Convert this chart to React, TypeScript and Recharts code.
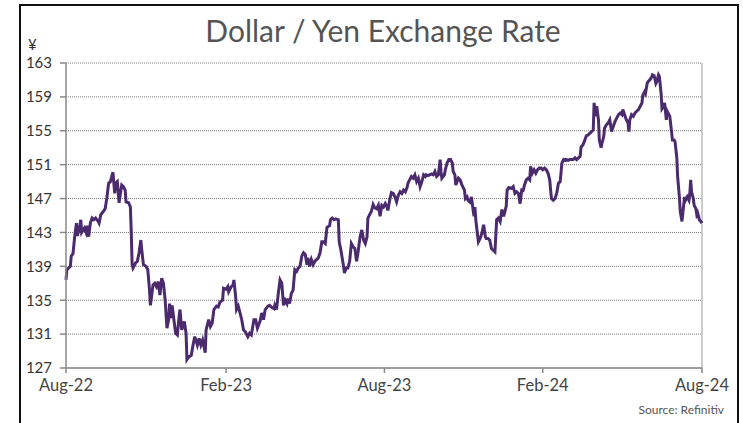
import { LineChart, Line, XAxis, YAxis, CartesianGrid, ReferenceLine } from 'recharts';

// days since the start of the axis (late Aug 2022) and USD/JPY close
const dayOffsets = [
  0, 1, 5, 6, 8, 10, 12, 13, 15, 17, 18, 21, 23, 24, 26, 28, 30, 32, 34, 37, 38, 40, 43, 45, 47, 49, 51, 53, 54, 55,
  56, 57, 59, 61, 62, 64, 66, 68, 69, 72, 74, 75, 76, 77, 80, 82, 84, 86, 87, 89, 92, 94, 96, 97, 100, 102, 104, 106, 108, 110,
  112, 114, 116, 118, 119, 121, 122, 124, 126, 128, 130, 131, 133, 135, 136, 138, 139, 141, 144, 146, 148, 151, 153, 155, 157, 160, 161, 164, 166, 168,
  170, 173, 175, 177, 180, 181, 184, 186, 187, 190, 192, 193, 195, 196, 198, 200, 202, 204, 206, 209, 211, 213, 216, 218, 220, 223, 225, 227, 229, 232,
  234, 236, 239, 240, 242, 244, 246, 248, 250, 252, 254, 255, 257, 259, 261, 263, 265, 267, 269, 271, 273, 275, 277, 278, 280, 282, 284, 286, 288, 290,
  292, 294, 296, 298, 299, 300, 303, 304, 306, 308, 310, 313, 314, 316, 319, 320, 322, 324, 326, 328, 330, 332, 334, 336, 338, 340, 342, 344, 346, 347,
  349, 351, 353, 355, 357, 359, 361, 363, 365, 367, 369, 370, 372, 374, 376, 378, 380, 382, 384, 386, 388, 390, 392, 393, 395, 397, 399, 401, 403, 405,
  407, 409, 411, 413, 414, 416, 418, 420, 422, 424, 426, 428, 430, 431, 432, 435, 436, 438, 440, 442, 444, 445, 447, 448, 451, 453, 455, 458, 459, 461,
  462, 464, 466, 468, 469, 470, 471, 473, 474, 476, 478, 480, 482, 483, 485, 487, 489, 491, 493, 495, 497, 499, 501, 503, 505, 506, 507, 509, 512, 514,
  516, 518, 520, 522, 524, 525, 527, 529, 531, 533, 534, 536, 538, 540, 542, 544, 546, 548, 550, 552, 554, 556, 557, 558, 560, 562, 564, 566, 568, 570,
  572, 574, 575, 577, 579, 581, 583, 585, 587, 589, 591, 592, 594, 596, 598, 600, 602, 604, 606, 607, 609, 610, 612, 613, 615, 616, 618, 619, 621, 623,
  625, 627, 629, 631, 633, 635, 637, 639, 640, 642, 644, 646, 647, 648, 650, 652, 654, 656, 658, 660, 662, 663, 665, 666, 668, 669, 671, 673, 674, 676,
  678, 679, 681, 682, 684, 685, 687, 688, 690, 691, 693, 694, 696, 697, 699, 700, 702, 703, 705, 706, 708, 709, 711, 712, 714, 716, 717, 718, 719, 721,
  722, 724, 725, 726, 728, 731,
];

const rates = [
  137.4, 138.6, 139.0, 140.2, 140.5, 142.5, 144.1, 142.6, 143.3, 144.5, 143.0, 143.5, 143.0, 143.8, 142.5, 144.1, 144.7, 144.5, 144.7, 144.3, 144.1, 145.1, 145.5, 145.8, 147.1, 148.8, 149.0, 149.8, 150.1, 148.8,
  147.6, 148.8, 149.0, 146.5, 147.2, 148.6, 148.4, 148.0, 146.6, 146.5, 146.0, 143.0, 139.2, 138.8, 139.4, 139.6, 140.6, 142.1, 141.0, 139.2, 139.0, 138.6, 136.2, 134.4, 136.8, 137.0, 136.6, 137.2, 135.6, 137.6,
  137.0, 135.0, 131.7, 132.7, 134.6, 132.9, 134.4, 132.7, 131.1, 130.9, 133.1, 133.9, 131.5, 132.1, 132.5, 131.1, 128.0, 128.3, 128.5, 129.7, 130.7, 129.7, 130.5, 129.7, 130.3, 128.8, 131.5, 132.7, 131.9, 132.3,
  133.9, 134.3, 134.2, 134.8, 135.0, 136.4, 136.3, 136.6, 136.0, 136.6, 136.8, 137.4, 135.4, 133.9, 134.3, 133.5, 132.7, 131.5, 131.3, 130.7, 131.1, 130.9, 132.7, 132.7, 131.7, 132.5, 133.5, 132.7, 133.9, 134.3,
  134.4, 134.2, 134.0, 134.4, 133.9, 135.8, 137.4, 137.0, 134.4, 135.0, 134.6, 135.2, 134.6, 135.8, 136.2, 138.6, 138.4, 138.8, 139.0, 140.2, 140.6, 140.4, 139.2, 140.0, 139.0, 139.8, 139.2, 139.6, 139.8, 140.0,
  140.6, 141.9, 141.9, 141.7, 142.7, 143.6, 143.8, 144.5, 144.7, 144.5, 144.6, 144.5, 141.9, 140.9, 139.0, 138.2, 138.8, 138.8, 139.6, 141.7, 141.3, 141.1, 139.6, 140.9, 142.5, 143.3, 142.1, 141.7, 142.5, 144.7,
  145.1, 145.5, 146.3, 145.9, 145.8, 146.2, 144.9, 146.2, 146.0, 146.4, 146.0, 145.6, 146.8, 147.7, 147.6, 147.2, 146.6, 147.4, 147.8, 147.6, 148.0, 147.8, 148.3, 148.8, 149.2, 149.6, 149.4, 149.8, 149.0, 149.4,
  148.4, 149.0, 149.8, 149.6, 149.8, 149.7, 149.8, 149.9, 149.8, 150.2, 149.6, 149.8, 151.6, 150.2, 149.4, 149.8, 150.4, 151.2, 151.6, 151.6, 151.2, 150.2, 149.8, 148.6, 149.4, 149.2, 148.6, 148.0, 147.0, 147.2,
  146.8, 146.6, 147.2, 145.6, 144.9, 146.0, 144.5, 142.7, 141.9, 142.3, 142.9, 143.9, 142.5, 142.3, 142.3, 142.1, 141.1, 140.9, 140.7, 144.5, 144.7, 144.3, 145.7, 144.9, 145.7, 146.1, 148.0, 148.3, 148.2, 148.4,
  147.6, 147.8, 147.6, 146.4, 148.2, 147.8, 148.6, 149.2, 149.4, 149.2, 150.8, 150.0, 150.4, 150.0, 150.4, 150.6, 150.6, 150.4, 150.6, 150.4, 150.0, 149.2, 148.0, 147.0, 146.8, 147.0, 147.6, 148.8, 149.0, 151.2,
  151.6, 151.5, 151.6, 151.5, 151.6, 151.6, 151.6, 151.8, 151.6, 151.8, 152.0, 153.1, 153.3, 153.8, 154.4, 154.5, 154.7, 154.9, 155.1, 158.3, 156.7, 157.9, 156.3, 153.9, 153.0, 153.5, 154.3, 155.3, 155.7, 155.9,
  156.3, 154.9, 155.5, 156.1, 156.5, 156.9, 157.1, 156.9, 157.5, 156.9, 156.3, 155.9, 154.9, 156.3, 156.9, 156.7, 157.1, 157.3, 157.5, 157.9, 158.3, 159.2, 159.6, 159.4, 160.6, 160.8, 161.0, 161.3, 161.6, 161.5,
  160.6, 160.8, 161.6, 161.4, 159.4, 157.6, 157.9, 158.3, 156.3, 157.3, 156.9, 156.7, 154.9, 153.9, 153.9, 153.7, 151.9, 149.6, 147.2, 145.5, 144.3, 145.3, 147.2, 146.8, 147.2, 146.8, 147.6, 149.2, 147.8, 147.0,
  146.2, 145.8, 145.1, 145.3, 144.5, 144.1,
];

const yTicks = [127, 131, 135, 139, 143, 147, 151, 155, 159, 163];
const xTickDays = [0, 184, 366, 548, 731];
const xTickLabels = ['Aug-22', 'Feb-23', 'Aug-23', 'Feb-24', 'Aug-24'];

const data = dayOffsets.map((day, i) => ({ day, rate: rates[i] }));

const font = 'Lato, "Open Sans", sans-serif';

export default function App() {
  return (
    <div style={{ position: 'absolute', left: 0, top: 0, width: 743, height: 423, overflow: 'hidden', background: '#fff', fontFamily: font }}>
      <div style={{ position: 'absolute', left: 19, top: 4, width: 716, height: 440, border: '2px solid #111' }} />
      <div style={{ position: 'absolute', left: 0, width: 766, top: 12, textAlign: 'center', fontSize: 30, color: '#555' }}>
        Dollar / Yen Exchange Rate
      </div>
      <div style={{ position: 'absolute', left: 28, top: 35, fontSize: 15, color: '#333' }}>¥</div>
      <div style={{ position: 'absolute', right: 19, top: 402, fontSize: 12, color: '#555' }}>Source: Refinitiv</div>
      <div style={{ position: 'absolute', left: 0, top: 0 }}>
        <LineChart width={743} height={423} data={data} margin={{ top: 63, right: 41, bottom: 25, left: 20 }}>
          <CartesianGrid vertical={false} stroke="#777" strokeDasharray="1 1" />
          <XAxis
            dataKey="day"
            type="number"
            domain={[0, 731]}
            ticks={xTickDays}
            tickFormatter={(v) => xTickLabels[xTickDays.indexOf(v)] ?? ''}
            stroke="#888"
            strokeWidth={1.5}
            tick={{ fill: '#444', fontSize: 16.5 }}
            tickSize={5}
            tickMargin={6}
            height={30}
            interval={0}
          />
          <YAxis
            type="number"
            domain={[127, 163]}
            ticks={yTicks}
            stroke="#888"
            strokeWidth={1.5}
            tick={{ fill: '#333', fontSize: 15 }}
            tickSize={6}
            tickMargin={8}
            width={46}
            interval={0}
          />
          <ReferenceLine x={731} stroke="#999" strokeWidth={1} />
          <Line
            type="linear"
            dataKey="rate"
            stroke="#4b2a6d"
            strokeWidth={3}
            dot={false}
            isAnimationActive={false}
          />
        </LineChart>
      </div>
    </div>
  );
}
